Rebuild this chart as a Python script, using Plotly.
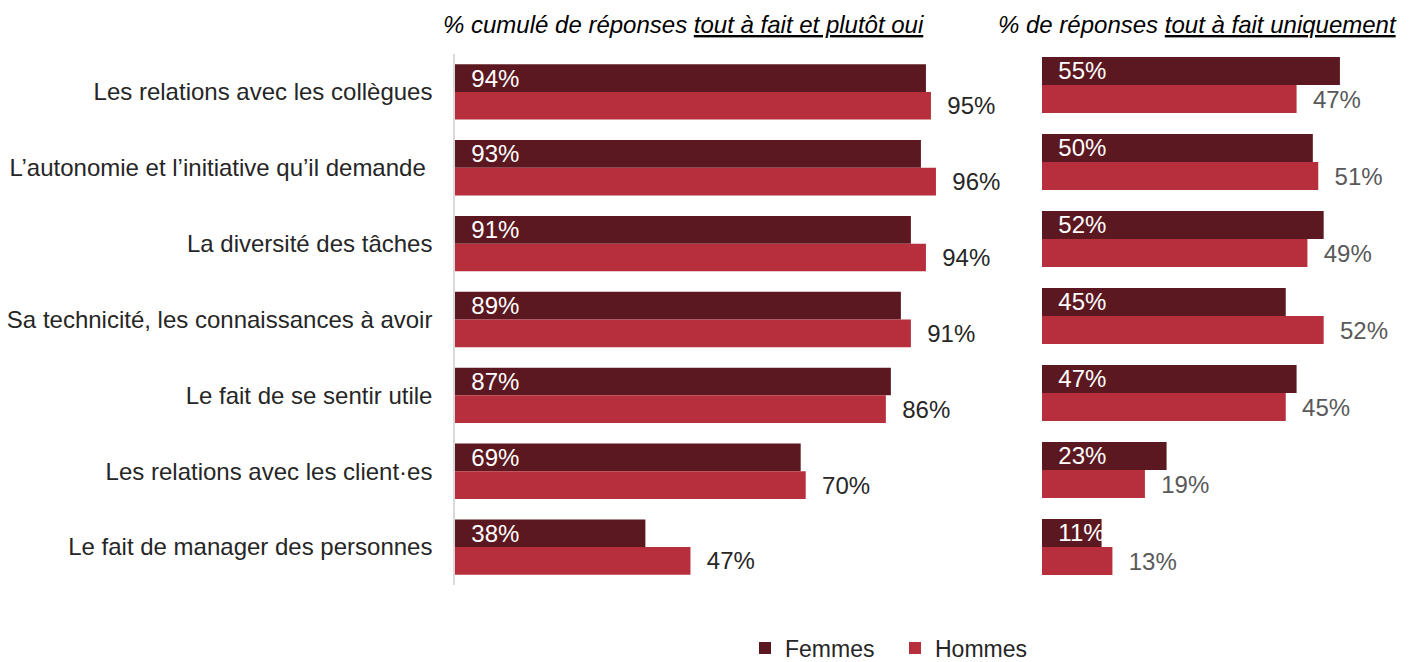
import plotly.graph_objects as go

# Survey items, top to bottom
categories = [
    "Les relations avec les collègues",
    "L\u2019autonomie et l\u2019initiative qu\u2019il demande\u00a0",
    "La diversité des tâches",
    "Sa technicité, les connaissances à avoir",
    "Le fait de se sentir utile",
    "Les relations avec les client\u00b7es",
    "Le fait de manager des personnes",
]

# % cumulé "tout à fait" + "plutôt oui"
femmes_cumul = [94, 93, 91, 89, 87, 69, 38]
hommes_cumul = [95, 96, 94, 91, 86, 70, 47]

# % "tout à fait" uniquement
femmes_tout = [55, 50, 52, 45, 47, 23, 11]
hommes_tout = [47, 51, 49, 52, 45, 19, 13]

series_names = ["Femmes", "Hommes"]

title_left = "<i>% cumulé de réponses <u>tout à fait et plutôt oui</u></i>"
title_right = "<i>% de réponses <u>tout à fait uniquement</u></i>"

C_FEM = "#5C1820"
C_HOM = "#B72F3C"
FONT = "Arial, Liberation Sans, sans-serif"
FS = 24
PAD = "\u00a0\u00a0"

W, H = 1416, 662

fig = go.Figure()

def bar(x, name, color, xa, ya, inside, outside_color, legend):
    return go.Bar(
        y=categories, x=x, name=name, orientation="h",
        marker=dict(color=color, line=dict(width=0)),
        xaxis=xa, yaxis=ya,
        texttemplate=PAD + "%{x}%",
        textposition="inside" if inside else "outside",
        insidetextanchor="start",
        constraintext="none",
        textfont=dict(family=FONT, size=FS, color="white" if inside else outside_color),
        cliponaxis=False,
        showlegend=legend,
        hoverinfo="skip",
    )

fig.add_trace(bar(femmes_cumul, series_names[0], C_FEM, "x", "y", True, None, True))
fig.add_trace(bar(hommes_cumul, series_names[1], C_HOM, "x", "y", False, "#262626", True))
fig.add_trace(bar(femmes_tout, series_names[0], C_FEM, "x2", "y2", True, None, False))
fig.add_trace(bar(hommes_tout, series_names[1], C_HOM, "x2", "y2", False, "#595959", False))

def px_x(p):
    return p / W

def px_y(p):
    return 1 - p / H

fig.update_layout(
    width=W, height=H,
    margin=dict(l=0, r=0, t=0, b=0, autoexpand=False),
    paper_bgcolor="white", plot_bgcolor="white",
    barmode="group", bargap=0.27, bargroupgap=0,
    font=dict(family=FONT, size=FS, color="#262626"),
    xaxis=dict(domain=[px_x(455), px_x(956)], range=[0, 100],
               showgrid=False, zeroline=False, showticklabels=False, showline=False),
    yaxis=dict(domain=[px_y(585), px_y(54)], anchor="x",
               autorange="reversed", showgrid=False, zeroline=False,
               showline=True, linecolor="#D9D9D9", linewidth=1.5,
               ticks="", ticklabelstandoff=16, automargin=False,
               tickfont=dict(family=FONT, size=FS, color="#262626")),
    xaxis2=dict(domain=[px_x(1042), px_x(1367)], range=[0, 60], anchor="y2",
                showgrid=False, zeroline=False, showticklabels=False, showline=False),
    yaxis2=dict(domain=[px_y(585.5), px_y(46.5)], anchor="x2",
                autorange="reversed", showgrid=False, zeroline=False,
                showline=False, showticklabels=False, ticks=""),
    legend=dict(orientation="h", x=px_x(745), xanchor="left",
                y=px_y(648), yanchor="middle",
                font=dict(family=FONT, size=23, color="#262626"),
                itemwidth=30, entrywidthmode="pixels", entrywidth=105,
                tracegroupgap=0, bgcolor="rgba(0,0,0,0)"),
    annotations=[
        dict(text=title_left, x=px_x(683), y=px_y(24), xref="paper", yref="paper",
             xanchor="center", yanchor="middle", showarrow=False,
             font=dict(family=FONT, size=FS, color="black")),
        dict(text=title_right, x=px_x(1197), y=px_y(24), xref="paper", yref="paper",
             xanchor="center", yanchor="middle", showarrow=False,
             font=dict(family=FONT, size=FS, color="black")),
    ],
)

fig.write_html("out.html")
